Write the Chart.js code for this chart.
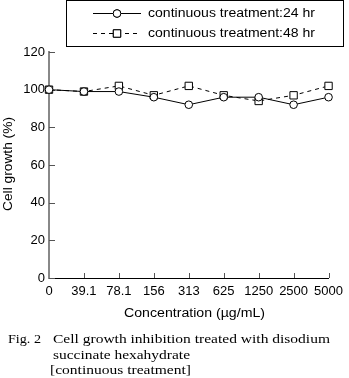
<!DOCTYPE html>
<html><head><meta charset="utf-8">
<script src="https://cdn.jsdelivr.net/npm/chart.js@4/dist/chart.umd.min.js"></script>
<style>html,body{margin:0;padding:0;background:#fff}#wrap{width:349px;height:378px;position:relative}</style>
</head><body><div id="wrap"><canvas id="c" width="349" height="378"></canvas></div>
<script>
// Concentration steps (µg/mL) shown as evenly spaced categories
const concentrations = ['0', '39.1', '78.1', '156', '313', '625', '1250', '2500', '5000'];
// Cell growth (%) after continuous treatment
const growth24h = [100, 99, 99, 96, 92, 96, 96, 92, 96];
const growth48h = [100, 99, 102, 97, 102, 97, 94, 97, 102];
const seriesLabels = ['continuous treatment:24 hr', 'continuous treatment:48 hr'];
const yMin = 0, yMax = 120, yStep = 20;
const xTitle = 'Concentration (\u00b5g/mL)';
const yTitle = 'Cell growth (%)';
const captionLines = [
  ['Fig. 2', 'Cell growth inhibition treated with disodium'],
  ['', 'succinate hexahydrate'],
  ['', '[continuous treatment]']
];

const SANS = '"Liberation Sans", Arial, sans-serif';
const SERIF = '"Liberation Serif", "DejaVu Serif", serif';

// draw text left-aligned, stretched/compressed to a given width
function fitText(ctx, text, x, y, w) {
  const m = ctx.measureText(text).width;
  ctx.save();
  ctx.translate(x, y);
  ctx.scale(w / m, 1);
  ctx.fillText(text, 0, 0);
  ctx.restore();
}

const decorations = {
  id: 'decorations',
  beforeDatasetsDraw(chart) {
    const {ctx, scales: {x, y}} = chart;
    // inward tick marks
    ctx.save();
    ctx.strokeStyle = '#555';
    ctx.lineWidth = 1;
    ctx.beginPath();
    for (let v = yMin; v <= yMax; v += yStep) {
      const py = Math.round(y.getPixelForValue(v)) + 0.5;
      ctx.moveTo(x.left, py);
      ctx.lineTo(x.left + 6, py);
    }
    for (let i = 1; i < concentrations.length; i++) {
      const px = Math.round(x.getPixelForValue(i)) + 0.5;
      ctx.moveTo(px, y.bottom);
      ctx.lineTo(px, y.bottom - 5);
    }
    ctx.stroke();
    ctx.restore();
  },
  afterDraw(chart) {
    const {ctx, scales: {x, y}} = chart;
    const ds = chart.data.datasets;
    ctx.save();
    // legend box
    ctx.strokeStyle = '#000';
    ctx.lineWidth = 1;
    ctx.strokeRect(66.5, 0.5, 277, 46);
    ctx.font = '12px ' + SANS;
    ctx.fillStyle = '#000';
    ctx.textBaseline = 'middle';
    const rows = [13, 33];
    rows.forEach((ry, i) => {
      const d = ds[i];
      ctx.save();
      ctx.strokeStyle = '#000';
      ctx.lineWidth = 1;
      ctx.setLineDash(d.borderDash || []);
      ctx.beginPath();
      ctx.moveTo(93, ry + 0.5);
      ctx.lineTo(141, ry + 0.5);
      ctx.stroke();
      ctx.restore();
      Chart.helpers.drawPoint(ctx, {
        pointStyle: d.pointStyle, radius: d.pointRadius, borderWidth: 1
      }, 117, ry + 0.5);
      ctx.fillStyle = '#fff';
      ctx.strokeStyle = '#000';
      ctx.fill();
      ctx.stroke();
      ctx.fillStyle = '#000';
      fitText(ctx, seriesLabels[i], 148, ry + 1, 167);
    });
    // axis titles
    ctx.font = '12px ' + SANS;
    ctx.textAlign = 'left';
    fitText(ctx, xTitle, 124, 314, 141);
    ctx.save();
    ctx.translate(9, (y.top + y.bottom) / 2 - 1);
    ctx.rotate(-Math.PI / 2);
    ctx.textAlign = 'left';
    const tw = ctx.measureText(yTitle).width;
    ctx.scale(94 / tw, 1);
    ctx.fillText(yTitle, -tw / 2, 0);
    ctx.restore();
    // caption
    ctx.font = '13px ' + SERIF;
    fitText(ctx, captionLines[0][0], 8, 340, 33);
    fitText(ctx, captionLines[0][1], 53, 340, 277);
    fitText(ctx, captionLines[1][1], 53, 356, 137);
    fitText(ctx, captionLines[2][1], 50, 371, 141);
    ctx.restore();
  }
};

new Chart(document.getElementById('c'), {
  type: 'line',
  data: {
    labels: concentrations,
    datasets: [
      {
        label: seriesLabels[0], data: growth24h,
        borderColor: '#000', borderWidth: 1, backgroundColor: '#fff',
        pointStyle: 'circle', pointRadius: 3.8, pointBorderWidth: 1,
        pointBackgroundColor: '#fff', pointBorderColor: '#000', tension: 0
      },
      {
        label: seriesLabels[1], data: growth48h,
        borderColor: '#000', borderWidth: 1, borderDash: [4, 4], backgroundColor: '#fff',
        pointStyle: 'rect', pointRadius: 5.2, pointBorderWidth: 1,
        pointBackgroundColor: '#fff', pointBorderColor: '#000', tension: 0
      }
    ]
  },
  options: {
    responsive: false, animation: false, devicePixelRatio: 1,
    layout: {padding: {left: 0, top: 52, right: 16, bottom: 0}},
    plugins: {legend: {display: false}, tooltip: {enabled: false}},
    scales: {
      x: {
        type: 'category', offset: false,
        grid: {display: true, drawOnChartArea: false, drawTicks: false},
        border: {display: true, color: '#000', width: 1},
        ticks: {color: '#000', font: {family: SANS, size: 13}, padding: 6, maxRotation: 0, autoSkip: false},
        afterFit(s) { s.height = 100; }
      },
      y: {
        min: yMin, max: yMax,
        grid: {display: true, drawOnChartArea: false, drawTicks: false},
        border: {display: true, color: '#888', width: 2},
        ticks: {stepSize: yStep, color: '#000', font: {family: SANS, size: 13}, padding: 4},
        afterFit(s) { s.width = 49; }
      }
    }
  },
  plugins: [decorations]
});
</script>
</body></html>
